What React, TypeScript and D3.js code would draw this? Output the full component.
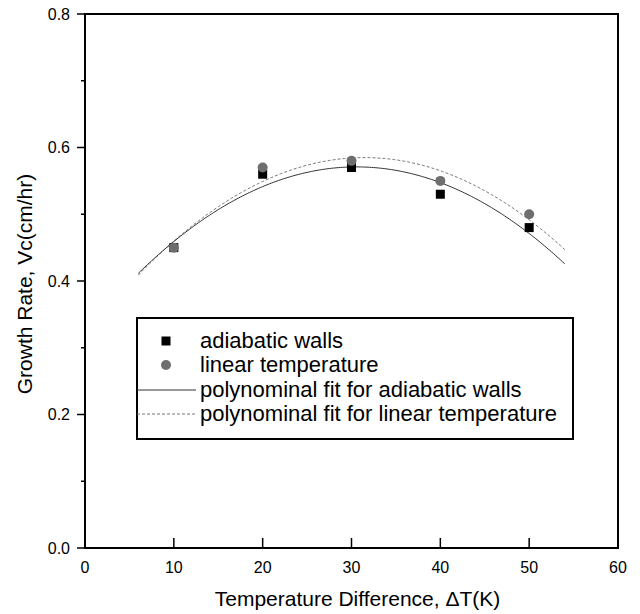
import React from "react";
import * as d3 from "d3";

const xTicks = [0, 10, 20, 30, 40, 50, 60];
const yTicks = [0.0, 0.2, 0.4, 0.6, 0.8];
const yMinorTicks = [0.1, 0.3, 0.5, 0.7];
const deltaT = [10, 20, 30, 40, 50];
const adiabatic = [0.45, 0.56, 0.57, 0.53, 0.48];
const linearTemp = [0.45, 0.57, 0.58, 0.55, 0.5];
const fitRange = [6, 54];
const legendLabels = [
  "adiabatic walls",
  "linear temperature",
  "polynominal fit for adiabatic walls",
  "polynominal fit for linear temperature",
];

// quadratic least-squares fit
function quadFit(xs: number[], ys: number[]) {
  const n = xs.length;
  const s = [0, 0, 0, 0, 0];
  const t = [0, 0, 0];
  for (let i = 0; i < n; i++) {
    const x = xs[i];
    for (let k = 0; k < 5; k++) s[k] += Math.pow(x, k);
    for (let k = 0; k < 3; k++) t[k] += Math.pow(x, k) * ys[i];
  }
  const A = [
    [s[0], s[1], s[2], t[0]],
    [s[1], s[2], s[3], t[1]],
    [s[2], s[3], s[4], t[2]],
  ];
  for (let i = 0; i < 3; i++) {
    for (let j = i + 1; j < 3; j++) {
      const f = A[j][i] / A[i][i];
      for (let k = i; k < 4; k++) A[j][k] -= f * A[i][k];
    }
  }
  const c = [0, 0, 0];
  for (let i = 2; i >= 0; i--) {
    let v = A[i][3];
    for (let k = i + 1; k < 3; k++) v -= A[i][k] * c[k];
    c[i] = v / A[i][i];
  }
  return (x: number) => c[0] + c[1] * x + c[2] * x * x;
}

export default function App() {
  const W = 640, H = 614;
  const left = 85, right = 618, top = 14, bottom = 548;
  const x = d3.scaleLinear().domain([0, 60]).range([left, right]);
  const y = d3.scaleLinear().domain([0, 0.8]).range([bottom, top]);

  const fA = quadFit(deltaT, adiabatic);
  const fL = quadFit(deltaT, linearTemp);
  const xs = d3.range(fitRange[0], fitRange[1] + 0.001, 0.25);
  const line = d3.line<number[]>().x((d) => x(d[0])).y((d) => y(d[1]));
  const pathA = line(xs.map((v) => [v, fA(v)]));
  const pathL = line(xs.map((v) => [v, fL(v)]));

  const font = "'Liberation Sans', Arial, sans-serif";
  const lg = { x0: 137, y0: 318, x1: 573, y1: 439 };
  const rowY = [341, 365, 390, 414];

  return (
    <svg width={W} height={H} style={{ position: "absolute", left: 0, top: 0 }} fontFamily={font}>
      <rect x={0} y={0} width={W} height={H} fill="white" />
      {/* fits */}
      <path d={pathL || ""} fill="none" stroke="#777" strokeWidth={1} strokeDasharray="3,2" />
      <path d={pathA || ""} fill="none" stroke="#333" strokeWidth={1} />
      {/* markers */}
      {deltaT.map((d, i) => (
        <rect key={"a" + i} x={x(d) - 4.5} y={y(adiabatic[i]) - 4.5} width={9} height={9} fill="#000" />
      ))}
      {deltaT.map((d, i) => (
        <circle key={"l" + i} cx={x(d)} cy={y(linearTemp[i])} r={5} fill="#6e6e6e" />
      ))}
      {/* frame */}
      <rect x={left} y={top} width={right - left} height={bottom - top} fill="none" stroke="#000" strokeWidth={2} />
      {/* y ticks */}
      {yTicks.map((t) => (
        <g key={"yt" + t}>
          <line x1={left - 8} x2={left} y1={y(t)} y2={y(t)} stroke="#000" strokeWidth={1.5} />
          <text x={left - 15} y={y(t)} dy="0.36em" textAnchor="end" fontSize={16}>
            {t.toFixed(1)}
          </text>
        </g>
      ))}
      {yMinorTicks.map((t) => (
        <line key={"ym" + t} x1={left - 4} x2={left} y1={y(t)} y2={y(t)} stroke="#000" strokeWidth={1.5} />
      ))}
      {/* x ticks */}
      {xTicks.map((t) => (
        <g key={"xt" + t}>
          <line x1={x(t)} x2={x(t)} y1={bottom} y2={bottom - 10} stroke="#000" strokeWidth={1.5} />
          <text x={x(t)} y={bottom + 25} textAnchor="middle" fontSize={16}>
            {t}
          </text>
        </g>
      ))}
      {/* axis titles */}
      <text x={(left + right) / 2 + 6} y={606} textAnchor="middle" fontSize={21}>
        Temperature Difference, ΔT(K)
      </text>
      <text
        transform={`translate(32, ${(top + bottom) / 2 + 3}) rotate(-90)`}
        textAnchor="middle"
        fontSize={21}
      >
        Growth Rate, Vc(cm/hr)
      </text>
      {/* legend */}
      <rect x={lg.x0} y={lg.y0} width={lg.x1 - lg.x0} height={lg.y1 - lg.y0} fill="white" stroke="#000" strokeWidth={2} />
      <rect x={161.5} y={rowY[0] - 4.5} width={9} height={9} fill="#000" />
      <circle cx={166} cy={rowY[1]} r={5} fill="#6e6e6e" />
      <line x1={137} x2={196} y1={rowY[2]} y2={rowY[2]} stroke="#333" strokeWidth={1} />
      <line x1={137} x2={196} y1={rowY[3]} y2={rowY[3]} stroke="#777" strokeWidth={1} strokeDasharray="3,2" />
      {legendLabels.map((l, i) => (
        <text key={l} x={200} y={rowY[i]} dy="0.33em" fontSize={22}>
          {l}
        </text>
      ))}
    </svg>
  );
}
